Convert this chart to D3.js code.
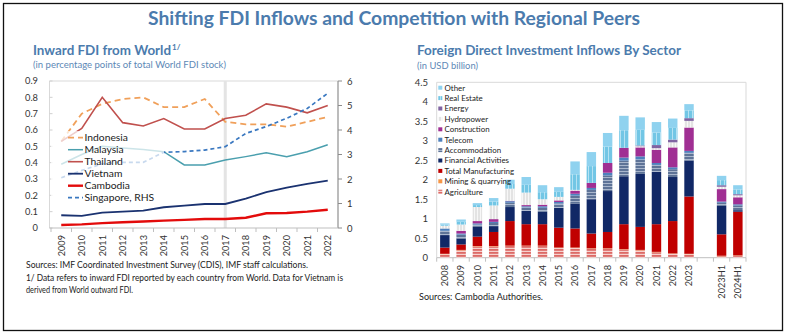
<!DOCTYPE html>
<html>
<head>
<meta charset="utf-8">
<script src="https://cdn.jsdelivr.net/npm/d3@7"></script>
<style>
  body { margin: 0; background: #fff; }
  svg { display: block; }
  text { font-family: Lato, "Open Sans", sans-serif; }
</style>
</head>
<body>
<svg id="chart" width="787" height="336"></svg>
<script>
// ---------- Left panel: inward FDI shares ----------
const years = [2009, 2010, 2011, 2012, 2013, 2014, 2015, 2016, 2017, 2018, 2019, 2020, 2021, 2022];
const indonesia = [0.53, 0.70, 0.76, 0.79, 0.80, 0.74, 0.74, 0.79, 0.65, 0.635, 0.635, 0.62, 0.65, 0.68];
const malaysia  = [0.39, 0.45, 0.50, 0.49, 0.48, 0.467, 0.386, 0.386, 0.416, 0.437, 0.46, 0.437, 0.467, 0.51];
const thailand  = [0.53, 0.61, 0.80, 0.645, 0.625, 0.67, 0.606, 0.606, 0.67, 0.69, 0.76, 0.74, 0.705, 0.75];
const vietnam   = [0.078, 0.074, 0.094, 0.10, 0.106, 0.127, 0.137, 0.147, 0.147, 0.18, 0.22, 0.247, 0.27, 0.29];
const cambodia  = [0.018, 0.022, 0.03, 0.035, 0.04, 0.045, 0.05, 0.055, 0.055, 0.063, 0.09, 0.092, 0.10, 0.112];
const singapore = [2.05, 2.35, 2.62, 2.68, 2.68, 3.09, 3.12, 3.18, 3.32, 3.86, 4.14, 4.48, 4.88, 5.50]; // right-hand scale
const leftTicks = [0, 0.1, 0.2, 0.3, 0.4, 0.5, 0.6, 0.7, 0.8, 0.9];
const rightTicks = [0, 1, 2, 3, 4, 5, 6];

// ---------- Right panel: FDI inflows by sector ----------
const periods = ["2008","2009","2010","2011","2012","2013","2014","2015","2016","2017","2018","2019","2020","2021","2022","2023","2023H1","2024H1"];
const agriculture   = [0.09,0.19,0.29,0.29,0.30,0.30,0.30,0.25,0.25,0.23,0.23,0.21,0.19,0.14,0.10,0.09,0.04,0.05];
const mining        = [0.01,0.01,0.01,0.01,0.01,0.01,0.01,0.01,0.01,0.01,0.01,0.01,0.01,0.01,0.01,0.01,0.01,0.01];
const manufacturing = [0.16,0.14,0.24,0.36,0.63,0.55,0.55,0.51,0.49,0.38,0.42,0.64,0.59,0.71,0.83,1.47,0.55,1.12];
const financial     = [0.32,0.15,0.25,0.15,0.36,0.34,0.32,0.51,0.64,0.88,1.05,1.23,1.36,1.34,1.13,0.92,0.73,0.04];
const accommodation = [0.11,0.10,0.06,0.08,0.11,0.09,0.10,0.11,0.20,0.24,0.40,0.40,0.37,0.18,0.20,0.20,0.08,0.12];
const telecom       = [0.06,0.03,0.03,0.03,0.04,0.03,0.04,0.04,0.05,0.05,0.07,0.08,0.08,0.05,0.05,0.05,0.03,0.03];
const construction  = [0.00,0.07,0.06,0.07,0.01,0.03,0.04,0.04,0.08,0.13,0.25,0.25,0.23,0.34,0.51,0.60,0.32,0.18];
const hydropower    = [0.07,0.16,0.36,0.35,0.31,0.32,0.14,0.09,0.02,0.00,0.00,0.00,0.03,0.04,0.13,0.17,0.06,0.05];
const energy        = [0.00,0.00,0.00,0.00,0.00,0.00,0.00,0.00,0.00,0.00,0.00,0.00,0.02,0.08,0.07,0.07,0.04,0.03];
const realEstate    = [0.03,0.07,0.05,0.10,0.12,0.20,0.18,0.13,0.40,0.43,0.42,0.45,0.40,0.32,0.30,0.20,0.13,0.12];
const other         = [0.03,0.06,0.05,0.09,0.11,0.20,0.18,0.12,0.33,0.36,0.35,0.37,0.32,0.27,0.24,0.16,0.11,0.11];
const sectorTicks = [0, 0.5, 1, 1.5, 2, 2.5, 3, 3.5, 4, 4.5];

const svg = d3.select("#chart");
const defs = svg.append("defs");

// striped fills
function hStripes(id, bg, line, period, lw) {
  const p = defs.append("pattern").attr("id", id).attr("patternUnits", "userSpaceOnUse")
    .attr("width", 6).attr("height", period);
  p.append("rect").attr("width", 6).attr("height", period).attr("fill", bg);
  p.append("rect").attr("y", 0).attr("width", 6).attr("height", lw).attr("fill", line);
}
function vStripes(id, bg, line, period, lw) {
  const p = defs.append("pattern").attr("id", id).attr("patternUnits", "userSpaceOnUse")
    .attr("width", period).attr("height", 6);
  p.append("rect").attr("width", period).attr("height", 6).attr("fill", bg);
  p.append("rect").attr("x", 0).attr("width", lw).attr("height", 6).attr("fill", line);
}
hStripes("pAgri", "#f6d2cf", "#dc6a66", 3, 1.8);
hStripes("pAccom", "#5e7397", "#a9b6cc", 3, 1);
vStripes("pRE", "#72c6e5", "#b5e2f3", 4, 1);
vStripes("pHydro", "#e3e3e3", "#f7f7f7", 3, 1);

// outer frame
svg.append("rect").attr("x", 3.5).attr("y", 3.5).attr("width", 779).attr("height", 327)
  .attr("fill", "none").attr("stroke", "#111").attr("stroke-width", 1.3);

svg.append("text").attr("x", 148).attr("y", 25)
  .attr("textLength", 492).attr("lengthAdjust", "spacingAndGlyphs")
  .attr("font-size", 19.5).attr("font-weight", 700).attr("fill", "#4b7bad")
  .text("Shifting FDI Inflows and Competition with Regional Peers");

// ================= Left panel =================
const L = { left: 49.5, right: 338, top: 81, bottom: 228 };
const xL = d3.scaleBand().domain(years).range([51, 338]);
const cx = d => xL(d) + xL.bandwidth() / 2;
const yL = d3.scaleLinear().domain([0, 0.9]).range([L.bottom, L.top]);
const yR = d3.scaleLinear().domain([0, 6]).range([L.bottom, L.top]);

const leftTitle = svg.append("text").attr("x", 33).attr("y", 55)
  .attr("font-size", 13.4).attr("font-weight", 700).attr("fill", "#4b7bad");
leftTitle.append("tspan").text("Inward FDI from World");
leftTitle.append("tspan").attr("dx", 1).attr("dy", -5).attr("font-size", 8).text("1/");
svg.append("text").attr("x", 33).attr("y", 68)
  .attr("textLength", 193).attr("lengthAdjust", "spacingAndGlyphs")
  .attr("font-size", 10).attr("fill", "#5d88b6")
  .text("(in percentage points of total World FDI stock)");

// plot frame
const gL = svg.append("g");
gL.append("path")
  .attr("d", `M${L.left},${L.bottom}V${L.top}H${L.right}V${L.bottom}`)
  .attr("fill", "none").attr("stroke", "#d9d9d9").attr("stroke-width", 1);
// 2017 marker band
gL.append("rect").attr("x", cx(2017) - 1.5).attr("y", L.top).attr("width", 3)
  .attr("height", L.bottom - L.top).attr("fill", "#e4e4e4");

// left axis labels + ticks
leftTicks.forEach(t => {
  gL.append("text").attr("x", 38).attr("y", yL(t) + 3.3).attr("text-anchor", "end")
    .attr("font-size", 9.3).attr("fill", "#333").text(d3.format("~g")(t));
  gL.append("line").attr("x1", L.left).attr("x2", L.left + 3).attr("y1", yL(t)).attr("y2", yL(t))
    .attr("stroke", "#d0d0d0");
});
// right axis
gL.append("line").attr("x1", L.right).attr("x2", L.right).attr("y1", L.top).attr("y2", L.bottom)
  .attr("stroke", "#8c8c8c");
rightTicks.forEach(t => {
  gL.append("line").attr("x1", L.right).attr("x2", L.right + 4).attr("y1", yR(t)).attr("y2", yR(t))
    .attr("stroke", "#8c8c8c");
  gL.append("text").attr("x", 347).attr("y", yR(t) + 3.5).attr("font-size", 9.5)
    .attr("fill", "#333").text(t);
});
// bottom axis
gL.append("line").attr("x1", L.left).attr("x2", L.right).attr("y1", L.bottom).attr("y2", L.bottom)
  .attr("stroke", "#bfbfbf");
years.forEach((yv, i) => {
  gL.append("line").attr("x1", xL(yv)).attr("x2", xL(yv)).attr("y1", L.bottom).attr("y2", L.bottom + 4)
    .attr("stroke", "#bfbfbf");
  gL.append("text").attr("transform", `translate(${cx(yv) + 3.3},235) rotate(-90)`)
    .attr("text-anchor", "end").attr("font-size", 9.2).attr("fill", "#333").text(yv);
});

const lineL = d3.line().x((d, i) => cx(years[i])).y(d => yL(d));
const lineR = d3.line().x((d, i) => cx(years[i])).y(d => yR(d));
const seriesL = [
  { name: "Indonesia", data: indonesia, gen: lineL, color: "#f0a05a", w: 1.8, dash: "6,4" },
  { name: "Malaysia", data: malaysia, gen: lineL, color: "#4a9fae", w: 1.5, dash: null },
  { name: "Thailand", data: thailand, gen: lineL, color: "#c0504d", w: 1.6, dash: null },
  { name: "Vietnam", data: vietnam, gen: lineL, color: "#1a3270", w: 1.8, dash: null },
  { name: "Cambodia", data: cambodia, gen: lineL, color: "#e30b0b", w: 2.4, dash: null },
  { name: "Singapore, RHS", data: singapore, gen: lineR, color: "#3a78c0", w: 1.7, dash: "4,3" }
];
seriesL.forEach(s => {
  gL.append("path").attr("d", s.gen(s.data)).attr("fill", "none").attr("stroke", s.color)
    .attr("stroke-width", s.w).attr("stroke-dasharray", s.dash);
});

// legend
gL.append("rect").attr("x", 51).attr("y", 131).attr("width", 113).attr("height", 73)
  .attr("fill", "#fff").attr("opacity", 0.72);
seriesL.forEach((s, i) => {
  const yy = 137.7 + 12 * i;
  gL.append("line").attr("x1", 68).attr("x2", 83).attr("y1", yy).attr("y2", yy)
    .attr("stroke", s.color).attr("stroke-width", s.w).attr("stroke-dasharray", s.dash);
  gL.append("text").attr("x", 84.5).attr("y", yy + 3.6).attr("font-size", 10.3)
    .attr("fill", "#222").text(s.name);
});

// notes
const notes = [
  ["Sources: IMF Coordinated Investment Survey (CDIS), IMF staff calculations.", 282, 268],
  ["1/ Data refers to inward FDI reported by each country from World. Data for Vietnam is", 317, 280.5],
  ["derived from World outward FDI.", 107, 292.5]
];
notes.forEach(n => {
  svg.append("text").attr("x", 26).attr("y", n[2]).attr("textLength", n[1])
    .attr("lengthAdjust", "spacingAndGlyphs").attr("font-size", 9.3).attr("fill", "#222").text(n[0]);
});

// ================= Right panel =================
const R = { left: 436.7, right: 746, top: 82.3, bottom: 257.7 };
svg.append("text").attr("x", 417).attr("y", 55)
  .attr("textLength", 264).attr("lengthAdjust", "spacingAndGlyphs")
  .attr("font-size", 14).attr("font-weight", 700).attr("fill", "#4b7bad")
  .text("Foreign Direct Investment Inflows By Sector");
svg.append("text").attr("x", 417).attr("y", 68.5)
  .attr("textLength", 61).attr("lengthAdjust", "spacingAndGlyphs")
  .attr("font-size", 9.5).attr("fill", "#5d88b6").text("(in USD billion)");

const slots = periods.slice(0, 16).concat([" "], periods.slice(16));
const xB = d3.scaleBand().domain(slots).range([R.left, R.right]).paddingInner(0.42).paddingOuter(0.21);
const yB = d3.scaleLinear().domain([0, 4.5]).range([R.bottom, R.top]);

const gR = svg.append("g");
gR.append("path")
  .attr("d", `M${R.left},${R.bottom}V${R.top}H${R.right}V${R.bottom}`)
  .attr("fill", "none").attr("stroke", "#d9d9d9");
gR.append("line").attr("x1", R.left).attr("x2", R.right).attr("y1", R.bottom).attr("y2", R.bottom)
  .attr("stroke", "#bfbfbf");
sectorTicks.forEach(t => {
  gR.append("text").attr("x", 428).attr("y", yB(t) + 3.3).attr("text-anchor", "end")
    .attr("font-size", 9.5).attr("fill", "#333").text(t);
});
const step = xB.step();
d3.range(slots.length + 1).forEach(k => {
  const xx = R.left + k * step;
  gR.append("line").attr("x1", xx).attr("x2", xx).attr("y1", R.bottom).attr("y2", R.bottom + 4)
    .attr("stroke", "#bfbfbf");
});
periods.forEach(p => {
  gR.append("text").attr("transform", `translate(${xB(p) + xB.bandwidth() / 2 + 3.3},265) rotate(-90)`)
    .attr("text-anchor", "end").attr("font-size", 9.2).attr("fill", "#333").text(p);
});

const sectors = [
  { key: "Agriculture", data: agriculture, fill: "url(#pAgri)" },
  { key: "Mining & quarrying", data: mining, fill: "#f79646" },
  { key: "Total Manufacturing", data: manufacturing, fill: "#c00000" },
  { key: "Financial Activities", data: financial, fill: "#112866" },
  { key: "Accommodation", data: accommodation, fill: "url(#pAccom)" },
  { key: "Telecom", data: telecom, fill: "#4f81bd" },
  { key: "Construction", data: construction, fill: "#a02f93" },
  { key: "Hydropower", data: hydropower, fill: "url(#pHydro)" },
  { key: "Energy", data: energy, fill: "#8064a2" },
  { key: "Real Estate", data: realEstate, fill: "url(#pRE)" },
  { key: "Other", data: other, fill: "#8fd2ef" }
];
const rows = periods.map((p, i) => {
  const o = { period: p };
  sectors.forEach(s => { o[s.key] = s.data[i]; });
  return o;
});
const stacked = d3.stack().keys(sectors.map(s => s.key))(rows);
stacked.forEach((layer, li) => {
  gR.append("g").attr("fill", sectors[li].fill)
    .selectAll("rect").data(layer).join("rect")
    .attr("x", d => xB(d.data.period))
    .attr("width", xB.bandwidth())
    .attr("y", d => yB(d[1]))
    .attr("height", d => Math.max(0, yB(d[0]) - yB(d[1])));
});

// legend (top entry = last stacked series)
sectors.slice().reverse().forEach((s, i) => {
  const yy = 87.7 + 10.4 * i;
  gR.append("rect").attr("x", 438.3).attr("y", yy - 2).attr("width", 4).attr("height", 4)
    .attr("fill", s.fill);
  gR.append("text").attr("x", 444.5).attr("y", yy + 2.8).attr("font-size", 7.9)
    .attr("fill", "#222").text(s.key);
});

svg.append("text").attr("x", 419).attr("y", 300).attr("textLength", 124)
  .attr("lengthAdjust", "spacingAndGlyphs").attr("font-size", 10).attr("fill", "#222")
  .text("Sources: Cambodia Authorities.");
</script>
</body>
</html>
